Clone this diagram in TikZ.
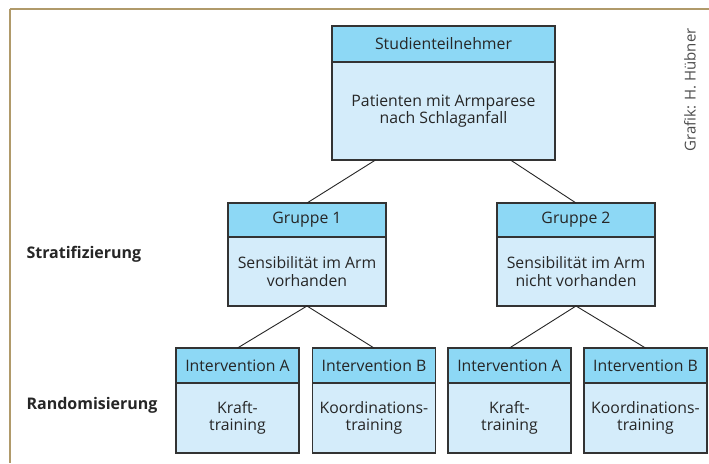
\documentclass[tikz,border=0pt]{standalone}
\usepackage{fontspec}
\setmainfont{Open Sans}
\begin{document}
\begin{tikzpicture}[x=1pt,y=-1pt,
  every node/.style={font=\fontsize{15.8}{17.5}\selectfont, text=black!85},
  hd/.style={draw=black!80, line width=1.1pt, fill=headblue, inner sep=0pt, outer sep=0pt, align=center},
  bd/.style={draw=black!80, line width=1.1pt, fill=bodyblue, inner sep=0pt, outer sep=0pt, align=center},
  conn/.style={draw=black!85, line width=0.9pt},
  lbl/.style={font=\fontsize{16}{18}\selectfont\bfseries, anchor=west, text=black!85},
  frame/.style={draw=framec, line width=1.2pt}]
\definecolor{headblue}{HTML}{8DD8F5}
\definecolor{bodyblue}{HTML}{D4ECFA}
\definecolor{framec}{HTML}{B09A6A}
\useasboundingbox (0,0) rectangle (709,463);
\fill[white] (0,0) rectangle (709,463);
\draw[frame] (9.5,9) -- (709,9);
\draw[frame] (10,9) -- (10,463);
% top
\node[bd, minimum width=223pt, minimum height=98pt] (bTop) at (443.5,111) {Patienten mit Armparese\\nach Schlaganfall};
\node[hd, minimum width=223pt, minimum height=36pt] (hTop) at (443.5,44) {Studienteilnehmer};
% groups
\node[bd, minimum width=158pt, minimum height=69pt] (bG1) at (307,271.5) {Sensibilität im Arm\\vorhanden};
\node[hd, minimum width=158pt, minimum height=34pt] (hG1) at (307,220) {Gruppe 1};
\node[bd, minimum width=158pt, minimum height=69pt] (bG2) at (576,271.5) {Sensibilität im Arm\\nicht vorhanden};
\node[hd, minimum width=158pt, minimum height=34pt] (hG2) at (576,220) {Gruppe 2};
% interventions
\foreach \n/\cx/\h/\b in {A1/237.5/Intervention A/{Kraft-\\training},B1/374/Intervention B/{Koordinations-\\training},A2/509.5/Intervention A/{Kraft-\\training},B2/645.5/Intervention B/{Koordinations-\\training}}{
  \node[bd, minimum width=123pt, minimum height=70pt] (b\n) at (\cx,418) {\b};
  \node[hd, minimum width=123pt, minimum height=35pt] (h\n) at (\cx,365.5) {\h};
}
% connectors
\draw[conn] ([xshift=-68pt]bTop.south) -- (hG1.north);
\draw[conn] ([xshift=67pt]bTop.south) -- (hG2.north);
\draw[conn] (bG1.south) -- (hA1.north);
\draw[conn] (bG1.south) -- (hB1.north);
\draw[conn] (bG2.south) -- (hA2.north);
\draw[conn] (bG2.south) -- (hB2.north);
% labels
\node[lbl] (strat) at (23,254) {Stratifizierung};
\node[lbl] (rand) at (23,405) {Randomisierung};
\node[rotate=90, font=\fontsize{15}{17}\selectfont, text=black!70] (credit) at (690,90) {Grafik: H. Hübner};
\end{tikzpicture}
\end{document}
